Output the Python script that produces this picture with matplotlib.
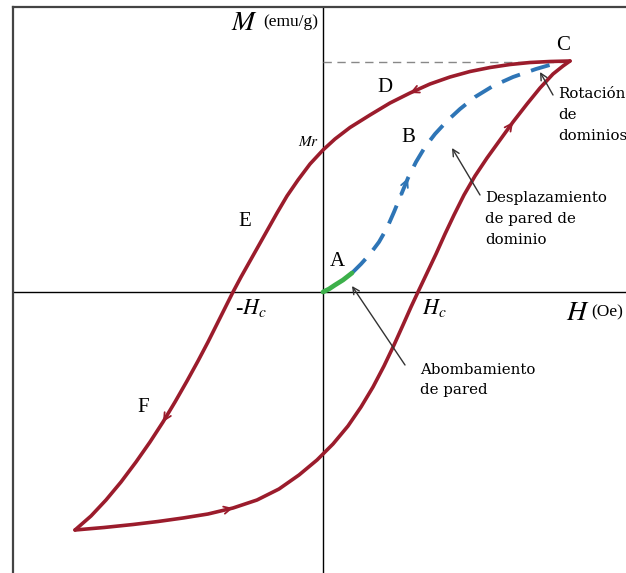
import matplotlib
matplotlib.use("Agg")
import matplotlib.pyplot as plt

# Hysteresis loop traced as (H, M) points (arbitrary units)
upper_H = [247, 227, 207, 187, 167, 147, 127, 107, 87, 67, 47, 27, 12, 0, -13, -25, -36,
           -46, -55, -64, -73, -82, -90, -98, -106, -115, -125, -136, -148, -160, -173,
           -187, -202, -217, -232, -248]
upper_M = [231, 230.5, 229.5, 227.5, 224.5, 220.5, 215, 208, 199, 189, 177, 164.5, 153, 142,
           128, 112, 96, 79, 63, 47, 31, 15, 0, -16, -32, -50, -69, -89, -110, -130, -150,
           -170, -190, -208, -224, -238]

lower_H = [-248, -219, -190, -165, -140, -115, -90, -66, -44, -24, -6, 10, 25, 38, 50, 61,
           71, 80, 88, 95, 104, 113, 122, 131, 141, 152, 164, 177, 190, 204, 217, 230, 240, 247]
lower_M = [-238, -235.5, -232.5, -229.5, -226, -222, -216, -208, -197, -183, -168, -152,
           -134, -115, -95, -74, -53, -33, -15, 0, 19, 38, 58, 77, 97, 116, 134, 152, 170,
           188, 204, 218, 226, 231]

# Initial magnetisation curve: reversible wall bowing, then wall displacement
bow_H = [0, 6, 12, 20, 29]
bow_M = [0, 3, 7, 12, 19]
virgin_H = [29, 38, 47, 56, 64, 71, 78, 85, 93, 102, 112, 124, 137, 152, 170, 190, 213, 237]
virgin_M = [19, 28, 38, 50, 64, 80, 97, 114, 130, 145, 158, 171, 183, 195, 206, 215, 223, 230]

M_sat = 230
red = "#9b1c2c"
blue = "#2e75b6"
green = "#3cb04a"

fig = plt.figure(figsize=(6.26, 5.73), dpi=100)
ax = fig.add_axes([13 / 626, 0, 613 / 626, 566 / 573])
ax.set_xlim(-310, 303)
ax.set_ylim(-281, 285)
for side in ("right", "bottom"):
    ax.spines[side].set_visible(False)
for side in ("left", "top"):
    ax.spines[side].set_linewidth(1.6)
    ax.spines[side].set_color("#444444")
ax.set_xticks([])
ax.set_yticks([])

ax.axhline(0, color="black", lw=1.0, zorder=1)
ax.axvline(0, color="black", lw=1.0, zorder=1)
ax.plot([0, upper_H[0]], [M_sat, M_sat], color="#888888", lw=1.0, dashes=(6, 4), zorder=1)

line_kw = dict(color=red, lw=2.6, solid_capstyle="round", solid_joinstyle="round", zorder=3)
ax.plot(upper_H, upper_M, **line_kw)
ax.plot(lower_H, lower_M, **line_kw)
ax.plot(virgin_H, virgin_M, color=blue, lw=2.8, dashes=(5, 3), zorder=4)
ax.plot(bow_H, bow_M, color=green, lw=3.4, solid_capstyle="round", zorder=5)


def flow_arrow(xs, ys, i, color):
    ax.annotate("", xy=(xs[i + 1], ys[i + 1]), xytext=(xs[i], ys[i]),
                arrowprops=dict(arrowstyle="->", color=color, lw=1.3,
                                mutation_scale=13, shrinkA=0, shrinkB=0),
                zorder=6)


flow_arrow(upper_H, upper_M, 7, red)
flow_arrow(upper_H, upper_M, 28, red)
flow_arrow(lower_H, lower_M, 5, red)
flow_arrow(lower_H, lower_M, 27, red)
flow_arrow(virgin_H, virgin_M, 6, blue)

serif = "Liberation Serif"
slab = "DejaVu Serif"

ax.text(-65, 270, r"$M$", fontsize=20, ha="right", va="center", math_fontfamily="stix")
ax.text(-5, 270, "(emu/g)", fontsize=12.5, family=serif, ha="right", va="center")
ax.text(267, -20, r"$H$", fontsize=20, ha="right", va="center", math_fontfamily="stix")
ax.text(268, -20, "(Oe)", fontsize=12.5, family=serif, ha="left", va="center")

for txt, x, y in [("C", 240, 247), ("D", 62, 204), ("B", 85, 155), ("E", -78, 70),
                  ("A", 14, 31), ("F", -180, -116)]:
    ax.text(x, y, txt, fontsize=15, family=serif, ha="center", va="center")

ax.text(-4, 150, r"$Mr$", fontsize=11, ha="right", va="center", math_fontfamily="stix")
ax.text(-88, -16, r"-$H_c$", fontsize=16, ha="left", va="center", math_fontfamily="stix",
        family=serif)
ax.text(99, -16, r"$H_c$", fontsize=16, ha="left", va="center", math_fontfamily="stix")

note_kw = dict(fontsize=10.8, family=slab, ha="left", va="center", linespacing=1.6)
ax.text(235, 177, "Rotación\nde\ndominios", **note_kw)
ax.text(162, 73, "Desplazamiento\nde pared de\ndominio", **note_kw)
ax.text(97, -88, "Abombamiento\nde pared", **note_kw)

pointer = dict(arrowstyle="->", color="#333333", lw=1.0, mutation_scale=12,
               shrinkA=0, shrinkB=0)
ax.annotate("", xy=(217, 220), xytext=(230, 197), arrowprops=pointer, zorder=7)
ax.annotate("", xy=(129, 144), xytext=(157, 97), arrowprops=pointer, zorder=7)
ax.annotate("", xy=(29, 6), xytext=(82, -73), arrowprops=pointer, zorder=7)

fig.savefig("out.png", dpi=100)
